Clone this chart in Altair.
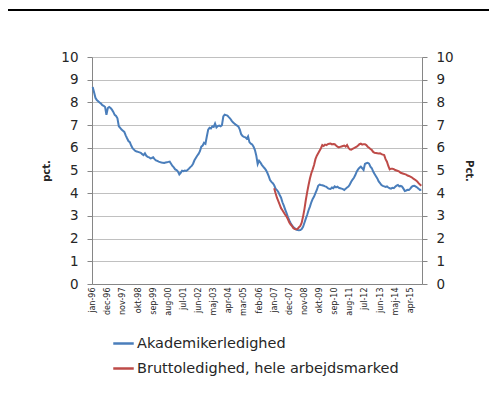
import altair as alt
import pandas as pd

tick_labels = ['jan-96', 'dec-96', 'nov-97', 'okt-98', 'sep-99', 'aug-00', 'jul-01', 'jun-02',
               'maj-03', 'apr-04', 'mar-05', 'feb-06', 'jan-07', 'dec-07', 'nov-08', 'okt-09',
               'sep-10', 'aug-11', 'jul-12', 'jun-13', 'maj-14', 'apr-15']
tick_positions = [0, 11, 22, 33, 44, 55, 66, 77, 88, 99, 110, 121, 132, 143, 154, 165,
                  176, 187, 198, 209, 220, 231]

series_names = ['Akademikerledighed', 'Bruttoledighed, hele arbejdsmarked']
series_colors = ['#4a7ebb', '#be4b48']

# monthly, jan-96 .. dec-15
akademiker = [
    8.68, 8.45, 8.20, 8.10, 8.05, 8.00, 7.95, 7.88, 7.85, 7.80, 7.45, 7.75,
    7.80, 7.75, 7.68, 7.58, 7.45, 7.40, 7.30, 6.95, 6.88, 6.80, 6.75, 6.70,
    6.55, 6.42, 6.30, 6.25, 6.10, 5.98, 5.92, 5.86, 5.84, 5.82, 5.80, 5.78,
    5.72, 5.68, 5.76, 5.65, 5.60, 5.58, 5.53, 5.55, 5.58, 5.50, 5.45, 5.42,
    5.39, 5.37, 5.35, 5.34, 5.33, 5.35, 5.36, 5.38, 5.39, 5.30, 5.20, 5.14,
    5.05, 5.02, 4.95, 4.83, 4.90, 4.99, 4.97, 5.00, 4.98, 5.02, 5.08, 5.15,
    5.20, 5.30, 5.45, 5.55, 5.65, 5.73, 5.85, 6.05, 6.10, 6.22, 6.18, 6.50,
    6.80, 6.88, 6.85, 6.95, 6.92, 7.07, 6.90, 6.96, 6.98, 6.95, 7.00, 7.38,
    7.46, 7.44, 7.42, 7.35, 7.29, 7.20, 7.12, 7.07, 7.02, 6.98, 6.93, 6.80,
    6.60, 6.52, 6.48, 6.46, 6.40, 6.50, 6.25, 6.18, 6.15, 6.05, 5.90, 5.65,
    5.28, 5.43, 5.35, 5.25, 5.17, 5.10, 5.02, 4.90, 4.75, 4.58, 4.50, 4.44,
    4.35, 4.20, 4.14, 4.05, 3.92, 3.80, 3.60, 3.45, 3.28, 3.12, 2.95, 2.80,
    2.68, 2.58, 2.50, 2.45, 2.40, 2.38, 2.37, 2.38, 2.42, 2.52, 2.70, 2.88,
    3.05, 3.25, 3.41, 3.60, 3.75, 3.85, 4.00, 4.14, 4.33, 4.38, 4.36, 4.35,
    4.33, 4.30, 4.28, 4.22, 4.20, 4.19, 4.25, 4.22, 4.30, 4.26, 4.29, 4.24,
    4.22, 4.20, 4.18, 4.14, 4.20, 4.25, 4.29, 4.38, 4.50, 4.60, 4.68, 4.80,
    4.95, 5.05, 5.12, 5.17, 5.10, 5.02, 5.29, 5.32, 5.34, 5.30, 5.17, 5.10,
    4.95, 4.85, 4.75, 4.65, 4.52, 4.44, 4.36, 4.32, 4.30, 4.28, 4.30, 4.25,
    4.22, 4.20, 4.24, 4.22, 4.28, 4.33, 4.36, 4.30, 4.32, 4.29, 4.20, 4.10,
    4.12, 4.15, 4.14, 4.20, 4.28, 4.32, 4.33, 4.29, 4.25, 4.20, 4.14, 4.15,
]

# monthly, jan-07 .. dec-15
brutto_start = 132
brutto = [
    4.22, 4.00, 3.80, 3.65, 3.50, 3.34, 3.25, 3.15, 3.05, 2.97, 2.85, 2.71,
    2.62, 2.55, 2.46, 2.42, 2.41, 2.43, 2.50, 2.56, 2.70, 2.97, 3.30, 3.70,
    4.05, 4.36, 4.65, 4.88, 5.05, 5.24, 5.50, 5.65, 5.76, 5.87, 5.98, 6.12,
    6.08, 6.14, 6.12, 6.16, 6.18, 6.19, 6.15, 6.17, 6.16, 6.10, 6.05, 6.02,
    6.04, 6.06, 6.08, 6.10, 6.05, 6.12, 6.00, 5.93, 5.92, 5.95, 5.98, 6.02,
    6.05, 6.10, 6.16, 6.18, 6.14, 6.16, 6.16, 6.12, 6.05, 6.00, 5.95, 5.90,
    5.82, 5.78, 5.77, 5.76, 5.75, 5.76, 5.72, 5.70, 5.68, 5.50, 5.39, 5.20,
    5.05, 5.08, 5.08, 5.06, 5.02, 5.00, 4.98, 4.95, 4.90, 4.88, 4.86, 4.84,
    4.82, 4.78, 4.76, 4.73, 4.70, 4.65, 4.61, 4.57, 4.52, 4.44, 4.38, 4.33,
]

rows = []
for i, v in enumerate(akademiker):
    rows.append({'idx': i, 'value': v, 'series': series_names[0]})
for i, v in enumerate(brutto):
    rows.append({'idx': brutto_start + i, 'value': v, 'series': series_names[1]})
df = pd.DataFrame(rows)

label_array = "[" + ",".join("'%s'" % t for t in tick_labels) + "]"
label_expr = label_array + "[round(datum.value / 11)]"

FONT = 'DejaVu Sans'
TXT = '#262626'

x_enc = alt.X('idx:Q',
              scale=alt.Scale(domain=[-0.5, 239.5], nice=False, zero=False),
              axis=alt.Axis(values=tick_positions, labelExpr=label_expr, labelAngle=270,
                            labelAlign='right', labelBaseline='middle', labelFontSize=8,
                            labelFont=FONT, labelColor=TXT, labelPadding=3, tickSize=0,
                            domainColor='#868686', grid=False, title=None, labelOverlap=False,
                            labelBound=False, labelFlush=False))

lines = alt.Chart(df).mark_line(strokeWidth=2).encode(
    x=x_enc,
    y=alt.Y('value:Q', scale=alt.Scale(domain=[0, 10], nice=False),
            axis=alt.Axis(values=list(range(11)), title='pct.', titleFont=FONT,
                          titleFontSize=10, titleFontWeight='bold', titleColor=TXT,
                          titlePadding=9, labelFont=FONT, labelFontSize=13.5,
                          labelColor=TXT, labelPadding=9, tickSize=5, tickColor='#868686',
                          domainColor='#868686', gridColor='#c0c0c0', grid=True)),
    color=alt.Color('series:N', scale=alt.Scale(domain=series_names, range=series_colors),
                    legend=alt.Legend(title=None, orient='none', legendX=20, legendY=275,
                                      symbolType='stroke', symbolSize=420, symbolStrokeWidth=2.5,
                                      labelFont=FONT, labelFontSize=14.5, labelColor=TXT,
                                      rowPadding=7, labelOffset=2, labelLimit=400)),
    detail='series:N',
)

right = alt.Chart(df).mark_line(opacity=0).encode(
    x=x_enc,
    y=alt.Y('value:Q', scale=alt.Scale(domain=[0, 10], nice=False),
            axis=alt.Axis(orient='right', values=list(range(11)), title='Pct.', titleFont=FONT,
                          titleFontSize=10, titleFontWeight='bold', titleColor=TXT,
                          titlePadding=10, labelFont=FONT, labelFontSize=13.5,
                          labelColor=TXT, labelPadding=9, tickSize=5, tickColor='#868686',
                          domainColor='#868686', grid=False)),
)

border = alt.Chart(pd.DataFrame({'a': [0]})).mark_rule(color='black', strokeWidth=2).encode(
    x=alt.value(-84), x2=alt.value(400), y=alt.value(-47))

chart = alt.layer(lines, right, border).resolve_scale(y='independent').properties(
    width=330, height=227,
    autosize=alt.AutoSizeParams(type='none'),
    padding={'left': 84, 'top': 49, 'right': 67, 'bottom': 118},
).configure_view(stroke=None)

chart.save("out.html", embed_options={"renderer": "svg", "actions": False})
